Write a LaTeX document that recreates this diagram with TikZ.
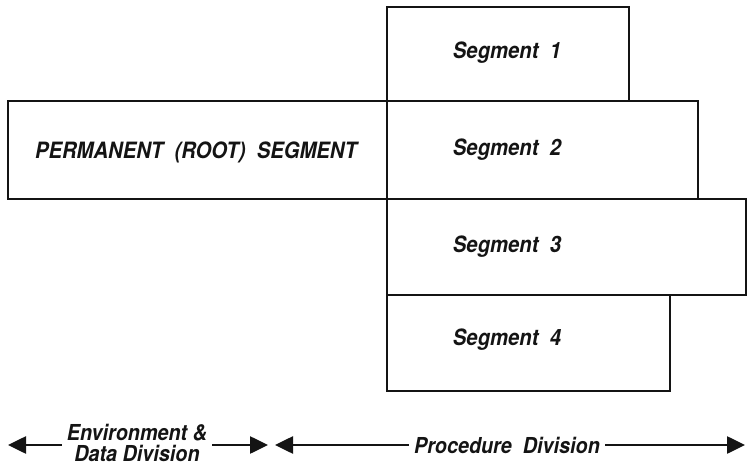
\documentclass[tikz,border=0pt]{standalone}
\usepackage{fontspec}
\setmainfont[FakeStretch=0.9]{TeX Gyre Heros}
\usetikzlibrary{arrows.meta}
\definecolor{inkline}{gray}{0.08}
\tikzset{
  segbox/.style={draw=inkline,line width=2.4pt,rectangle,inner sep=0pt,anchor=north west},
  segtxt/.style={font=\fontsize{22.5}{22}\selectfont\bfseries\itshape,text=inkline},
  divtxt/.style={font=\fontsize{22}{20.5}\selectfont\bfseries\itshape,text=inkline,align=center,inner sep=5pt},
  divarr/.style={draw=inkline,line width=2.6pt,-{Triangle[length=18pt,width=17pt]}},
}
\begin{document}
\begin{tikzpicture}[x=1pt,y=1pt]
  \useasboundingbox (0,0) rectangle (747,-465);
  \node[segbox,minimum width=379pt,minimum height=98pt] (root) at (7,-100) {};
  \node[segbox,minimum width=242pt,minimum height=94pt] (seg1) at (386,-6) {};
  \node[segbox,minimum width=311pt,minimum height=98pt] (seg2) at (386,-100) {};
  \node[segbox,minimum width=359pt,minimum height=96pt] (seg3) at (386,-198) {};
  \node[segbox,minimum width=283pt,minimum height=96pt] (seg4) at (386,-294) {};
  \node[segtxt] (rootlab) at (196,-152) {PERMANENT \ (ROOT) \ SEGMENT};
  \node[segtxt] (seg1lab) at (507,-53) {Segment \ 1};
  \node[segtxt] (seg2lab) at (507,-150) {Segment \ 2};
  \node[segtxt] (seg3lab) at (507,-247) {Segment \ 3};
  \node[segtxt] (seg4lab) at (507,-340) {Segment \ 4};
  \node[divtxt] (envdiv) at (137,-443) {Environment \&\\Data Division};
  \node[divtxt] (procdiv) at (507,-445) {Procedure \ Division};
  \coordinate (envL) at (8,-445);
  \coordinate (envR) at (268,-445);
  \coordinate (procL) at (275,-445);
  \coordinate (procR) at (745,-445);
  \draw[divarr] (envdiv.west |- envL) -- (envL);
  \draw[divarr] (envdiv.east |- envR) -- (envR);
  \draw[divarr] (procdiv.west) -- (procL);
  \draw[divarr] (procdiv.east) -- (procR);
\end{tikzpicture}
\end{document}
